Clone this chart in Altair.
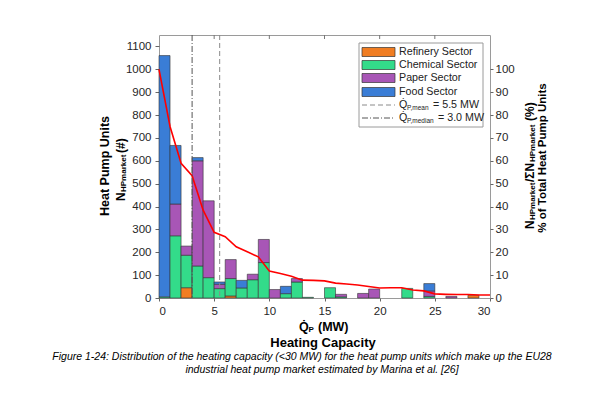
import altair as alt
import pandas as pd

# ---------------- data ----------------
bin_start = list(range(30))          # 1 MW bins, 0..29
bin_width = 1
sectors = ["Refinery Sector", "Chemical Sector", "Paper Sector", "Food Sector"]
colors = ["#F07D22", "#33DB8A", "#A856B6", "#3A7DD6"]

refinery = [0, 0, 45, 0, 0, 0, 9, 0, 0, 0,
            0, 0, 0, 0, 0, 0, 0, 0, 0, 0,
            0, 0, 0, 0, 0, 0, 0, 0, 12, 0]
chemical = [5, 272, 142, 140, 89, 41, 76, 44, 80, 155,
            0, 19, 70, 3, 0, 45, 5, 0, 0, 0,
            0, 0, 42, 0, 7, 0, 0, 0, 0, 0]
paper = [0, 139, 40, 460, 336, 19, 83, 0, 24, 101,
         37, 0, 15, 0, 0, 0, 11, 0, 20, 39,
         0, 0, 0, 0, 24, 0, 7, 0, 0, 0]
food = [1055, 256, 0, 14, 0, 10, 0, 33, 0, 0,
        0, 32, 0, 0, 0, 0, 0, 0, 0, 0,
        0, 0, 0, 0, 32, 0, 0, 0, 0, 0]

cum_x = list(range(31))
cum_pct = [100, 75, 58.9, 53.5, 38.4, 28.7, 26.8, 22.4, 20.2, 18.0,
           11.8, 10.7, 9.5, 7.8, 7.7, 7.5, 6.5, 6.1, 5.7, 5.0,
           4.4, 4.5, 4.5, 3.5, 3.1, 1.8, 1.6, 1.5, 1.5, 1.3, 1.3]

mean_val = 5.5
median_val = 3.0

x_ticks = [0, 5, 10, 15, 20, 25, 30]
top_ticks = [5, 10, 15, 20, 25]
left_ticks = [0, 100, 200, 300, 400, 500, 600, 700, 800, 900, 1000, 1100]
right_ticks = [0, 10, 20, 30, 40, 50, 60, 70, 80, 90, 100]

# ---------------- build tables ----------------
rows = []
for i, s in enumerate(bin_start):
    base = 0
    for name, vals in zip(sectors, [refinery, chemical, paper, food]):
        v = vals[i]
        if v > 0:
            rows.append(dict(x0=s, x1=s + bin_width, y0=base, y1=base + v, sector=name))
            base += v
bars_df = pd.DataFrame(rows)
line_df = pd.DataFrame({"x": cum_x, "p": cum_pct})

W, H = 331, 263
FONT = "Liberation Sans"
one = pd.DataFrame({"a": [0]})

xs = alt.Scale(domain=[0, 30], nice=False, zero=False)
x_axis = alt.Axis(values=x_ticks, title=None, grid=False, domain=False,
                  tickSize=3, labelPadding=4, labelFontSize=11.5, format="d")

bars = alt.Chart(bars_df).mark_rect(stroke="#333333", strokeWidth=0.6).encode(
    x=alt.X("x0:Q", scale=xs, axis=x_axis),
    x2="x1:Q",
    y=alt.Y("y0:Q", scale=alt.Scale(domain=[0, 1150], nice=False),
            axis=alt.Axis(values=left_ticks, title=None, grid=False, domain=False, format="d",
                          tickSize=4, labelPadding=4, labelFontSize=11.5)),
    y2="y1:Q",
    color=alt.Color("sector:N", scale=alt.Scale(domain=sectors, range=colors), legend=None),
)

red = alt.Chart(line_df).mark_line(color="#FF0000", strokeWidth=1.6).encode(
    x=alt.X("x:Q", scale=xs, axis=x_axis),
    y=alt.Y("p:Q", scale=alt.Scale(domain=[0, 115], nice=False),
            axis=alt.Axis(orient="right", values=right_ticks, title=None, grid=False, format="d",
                          domain=False, tickSize=3, labelPadding=2, labelFontSize=11.5)),
)

mean_rule = alt.Chart(pd.DataFrame({"v": [mean_val]})).mark_rule(
    color="#8a8a8a", strokeDash=[5, 3], strokeWidth=1).encode(
    x=alt.X("v:Q", scale=xs, axis=x_axis), y=alt.value(0), y2=alt.value(H))
median_rule = alt.Chart(pd.DataFrame({"v": [median_val]})).mark_rule(
    color="#555555", strokeDash=[6, 2, 1, 2], strokeWidth=1).encode(
    x=alt.X("v:Q", scale=xs, axis=x_axis), y=alt.value(0), y2=alt.value(H))

topticks = alt.Chart(pd.DataFrame({"t": top_ticks})).mark_rule(
    color="#777777", strokeWidth=1).encode(
    x=alt.X("t:Q", scale=xs, axis=x_axis), y=alt.value(0), y2=alt.value(4))


def txt(text, x, y, size, bold=False, italic=False, angle=0, align="center",
        baseline="middle", color="#000000"):
    kw = dict(text=text, fontSize=size, font=FONT, align=align, baseline=baseline,
              color=color, angle=angle)
    if bold:
        kw["fontWeight"] = "bold"
    if italic:
        kw["fontStyle"] = "italic"
    return alt.Chart(one).mark_text(**kw).encode(x=alt.value(x), y=alt.value(y))


layers = [bars, red, mean_rule, median_rule, topticks]

# ---------------- legend (drawn) ----------------
layers.append(alt.Chart(one).mark_rect(fill="white", stroke="#9a9a9a", strokeWidth=1).encode(
    x=alt.value(200), x2=alt.value(324), y=alt.value(8), y2=alt.value(92)))
row_y = [17, 30, 43, 57, 70, 83]
for name, col, ry in zip(sectors, colors, row_y[:4]):
    layers.append(alt.Chart(one).mark_rect(fill=col, stroke="#333333", strokeWidth=0.7).encode(
        x=alt.value(203), x2=alt.value(236), y=alt.value(ry - 4.5), y2=alt.value(ry + 4.5)))
    layers.append(txt(name, 240, ry, 10.7, align="left", color="#222222"))
layers.append(alt.Chart(one).mark_rule(color="#8a8a8a", strokeDash=[5, 3]).encode(
    x=alt.value(203), x2=alt.value(236), y=alt.value(row_y[4])))
layers.append(alt.Chart(one).mark_rule(color="#555555", strokeDash=[6, 2, 1, 2]).encode(
    x=alt.value(203), x2=alt.value(236), y=alt.value(row_y[5])))
for ry, sub, rest in [(row_y[4], "P,mean", "= 5.5 MW"), (row_y[5], "P,median", "= 3.0 MW")]:
    layers.append(txt("Q\u0307", 240, ry, 10.7, align="left", color="#222222"))
    layers.append(txt(sub, 248, ry + 2.5, 6.5, align="left", color="#222222"))
    layers.append(txt(rest, 252 + (22 if sub == "P,mean" else 27), ry, 10.7, align="left",
                      color="#222222"))

# ---------------- axis titles ----------------
# left
layers.append(txt("Heat Pump Units", -54, 131, 12.5, bold=True, angle=270))
layers.append(txt("N", -38, 166, 12, bold=True, angle=270, align="left"))
layers.append(txt("HPmarket", -35, 157, 8, bold=True, angle=270, align="left"))
layers.append(txt("(#)", -38, 118, 12, bold=True, angle=270, align="left"))
# right
layers.append(txt("N", 371, 194, 12, bold=True, angle=270, align="left"))
layers.append(txt("HPmarket", 374, 185, 8, bold=True, angle=270, align="left"))
layers.append(txt("/\u03a3N", 371, 147, 12, bold=True, angle=270, align="left"))
layers.append(txt("HPmarket", 374, 127, 8, bold=True, angle=270, align="left"))
layers.append(txt("(%)", 371, 86, 12, bold=True, angle=270, align="left"))
layers.append(txt("% of Total Heat Pump Units", 384, 123, 11.5, bold=True, angle=270))
# bottom
layers.append(txt("Q\u0307", 140, 292, 12.5, bold=True, align="left"))
layers.append(txt("P", 149.5, 295, 8, bold=True, align="left"))
layers.append(txt("(MW)", 159, 292, 12.5, bold=True, align="left"))
layers.append(txt("Heating Capacity", 164, 308, 13, bold=True))
# caption
layers.append(txt("Figure 1-24: Distribution of the heating capacity (<30 MW) for the heat pump "
                  "units which make up the EU28", 143, 322, 10.5, italic=True))
layers.append(txt("industrial heat pump market estimated by Marina et al. [26]",
                  163, 335, 10.5, italic=True))

chart = alt.layer(*layers).resolve_scale(y="independent").properties(
    width=W, height=H,
    autosize=alt.AutoSizeParams(type="none"),
    padding={"left": 151, "top": 27, "right": 102, "bottom": 92},
).configure_view(stroke="#9a9a9a", strokeWidth=1).configure_axis(
    labelFont=FONT, labelColor="#262626", tickColor="#666666"
)

chart.save("out.html", embed_options={"renderer": "svg", "actions": False})
